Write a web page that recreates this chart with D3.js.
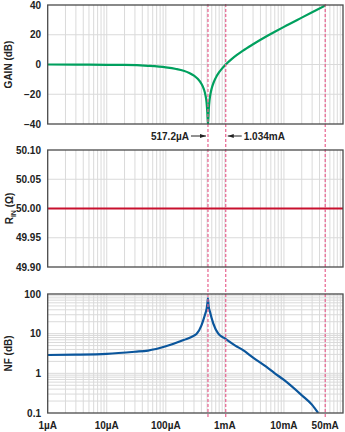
<!DOCTYPE html>
<html><head><meta charset="utf-8">
<script src="https://cdn.jsdelivr.net/npm/d3@7"></script>
<style>
html,body{margin:0;padding:0;background:#fff;}
svg text{font-family:"Liberation Sans",Arial,Helvetica,sans-serif;font-weight:bold;fill:#222;}
</style></head><body>
<svg id="chart" width="345" height="432"></svg>
<script>
// ---------- data ----------
const xTickValues = [1e-6, 1e-5, 1e-4, 1e-3, 1e-2, 5e-2];
const xTickLabels = ["1\u00b5A", "10\u00b5A", "100\u00b5A", "1mA", "10mA", "50mA"];

const gainTicks = [40, 20, 0, -20, -40];
const gainTickLabels = ["40", "20", "0", "\u221220", "\u221240"];
const gainCurrent = [1e-6, 3e-6, 1e-5, 2e-5, 5e-5, 1e-4, 1.5e-4, 2e-4, 2.5e-4, 3e-4, 3.5e-4, 4e-4, 4.4e-4, 4.7e-4, 4.9e-4, 5.05e-4, 5.172e-4, 5.25e-4, 5.35e-4, 5.5e-4, 5.8e-4, 6.2e-4, 7e-4, 8e-4, 9e-4, 1.034e-3, 1.3e-3, 1.6e-3, 2e-3, 3e-3, 5e-3, 7e-3, 1e-2, 2e-2, 3e-2, 5e-2];
const gainDb = [0, -0.05, -0.2, -0.3, -0.9, -1.9, -3.0, -4.2, -5.7, -7.5, -9.8, -12.9, -16.5, -20.8, -25.6, -32.5, -40, -36.5, -29.3, -24, -18.3, -14, -9, -5.2, -2.6, 0, 3.6, 6.4, 9.15, 13.6, 18.8, 22, 25.3, 31.5, 35.1, 39.6];

const rinTicks = [50.10, 50.05, 50.00, 49.95, 49.90];
const rinTickLabels = ["50.10", "50.05", "50.00", "49.95", "49.90"];
const rinCurrent = [1e-6, 1e-1];
const rinOhm = [50.0, 50.0];

const nfTicks = [100, 10, 1, 0.1];
const nfTickLabels = ["100", "10", "1", "0.1"];
const nfCurrent = [1e-6, 3e-6, 1e-5, 3e-5, 5e-5, 1e-4, 2e-4, 3e-4, 3.33e-4, 4e-4, 4.31e-4, 4.6e-4, 4.92e-4, 5.05e-4, 5.172e-4, 5.3e-4, 5.6e-4, 6.37e-4, 7.74e-4, 1e-3, 1.5e-3, 2e-3, 3e-3, 5e-3, 7e-3, 1e-2, 2e-2, 3e-2, 3.8e-2];
const nfDb = [2.9, 2.95, 3.1, 3.5, 3.75, 4.8, 6.9, 8.9, 10, 16, 22, 30, 43, 56, 78, 50, 35, 18, 10, 7.6, 5.0, 3.9, 2.5, 1.47, 1.0, 0.68, 0.28, 0.16, 0.1];

const markerCurrents = [517.2e-6, 1.034e-3, 50e-3];
const markerLabels = ["517.2\u00b5A", "1.034mA"];

// ---------- layout ----------
const svg = d3.select("#chart");
const X0 = 47.7, X1 = 343;
const x = d3.scaleLog().domain([1e-6, 1e-1]).range([X0, X1]);

const yGain = d3.scaleLinear().domain([-40, 40]).range([124, 5]);
const yRin = d3.scaleLinear().domain([49.90, 50.10]).range([267, 150]);
const yNf = d3.scaleLog().domain([0.1, 100]).range([413, 294]);

const gridColor = "#dadada";
const borderColor = "#4a4a4a";

// all minor/major x grid values
const xGrid = [];
for (let e = -6; e < -1; e++) for (let m = 1; m <= 9; m++) xGrid.push(m * Math.pow(10, e));

function panel(id, y, yTicks, yLabels, hGrid) {
  const [yb, yt] = y.range();
  const g = svg.append("g");
  g.append("clipPath").attr("id", "clip" + id).append("rect")
    .attr("x", X0).attr("y", yt).attr("width", X1 - X0).attr("height", yb - yt);
  g.selectAll("line.vg").data(xGrid.slice(1)).join("line")
    .attr("x1", d => x(d)).attr("x2", d => x(d)).attr("y1", yt).attr("y2", yb)
    .attr("stroke", gridColor).attr("stroke-width", 1);
  g.selectAll("line.hg").data(hGrid).join("line")
    .attr("x1", X0).attr("x2", X1).attr("y1", d => y(d)).attr("y2", d => y(d))
    .attr("stroke", gridColor).attr("stroke-width", 1);
  g.selectAll("text.yt").data(yTicks).join("text")
    .attr("x", 41).attr("y", d => y(d)).attr("dy", "0.35em")
    .attr("text-anchor", "end").attr("font-size", 10)
    .text((d, i) => yLabels[i]);
  return g;
}

// gain panel
const gGain = panel("gain", yGain, gainTicks, gainTickLabels, [20, 0, -20]);
// rin panel
const gRin = panel("rin", yRin, rinTicks, rinTickLabels, [50.05, 50.00, 49.95]);
// nf panel
const nfGrid = [];
for (let e = -1; e < 2; e++) for (let m = 1; m <= 9; m++) nfGrid.push(m * Math.pow(10, e));
const gNf = panel("nf", yNf, nfTicks, nfTickLabels, nfGrid.slice(1));

// marker dashed lines (behind curves, above grid)
svg.selectAll("line.mk").data(markerCurrents).join("line")
  .attr("x1", d => x(d)).attr("x2", d => x(d)).attr("y1", 4).attr("y2", 418)
  .attr("stroke", "#e8628e").attr("stroke-width", 1.2).attr("stroke-dasharray", "3,2");

// curves
const gainData = gainCurrent.map((c, i) => [c, gainDb[i]]);
gGain.append("path").datum(gainData)
  .attr("clip-path", "url(#clipgain)")
  .attr("fill", "none").attr("stroke", "#00a05e").attr("stroke-width", 2.2)
  .attr("d", d3.line().x(d => x(d[0])).y(d => yGain(d[1])).curve(d3.curveMonotoneX));

const rinData = rinCurrent.map((c, i) => [c, rinOhm[i]]);
gRin.append("path").datum(rinData)
  .attr("fill", "none").attr("stroke", "#c8102e").attr("stroke-width", 2.2)
  .attr("d", d3.line().x(d => x(d[0])).y(d => yRin(d[1])));

const nfData = nfCurrent.map((c, i) => [c, nfDb[i]]);
gNf.append("path").datum(nfData)
  .attr("clip-path", "url(#clipnf)")
  .attr("fill", "none").attr("stroke", "#0b569c").attr("stroke-width", 2.2)
  .attr("d", d3.line().x(d => x(d[0])).y(d => yNf(d[1])).curve(d3.curveMonotoneX));

// borders
[yGain, yRin, yNf].forEach(y => {
  const [yb, yt] = y.range();
  svg.append("rect").attr("x", X0).attr("y", yt).attr("width", X1 - X0).attr("height", yb - yt)
    .attr("fill", "none").attr("stroke", borderColor).attr("stroke-width", 1.3);
});

// x tick labels
svg.selectAll("text.xt").data(xTickValues).join("text")
  .attr("x", d => x(d)).attr("y", 429).attr("text-anchor", "middle").attr("font-size", 10)
  .text((d, i) => xTickLabels[i]);

// y axis titles
function yTitle(yc, xc, build) {
  const t = svg.append("text").attr("transform", `translate(${xc},${yc}) rotate(-90)`)
    .attr("text-anchor", "middle").attr("font-size", 10);
  build(t);
}
yTitle(64.5, 12, t => t.text("GAIN (dB)"));
yTitle(208.5, 13, t => {
  t.append("tspan").text("R");
  t.append("tspan").attr("font-size", 7).attr("dy", 2.5).text("IN");
  t.append("tspan").attr("dy", -2.5).text(" (\u03a9)");
});
yTitle(353.5, 12, t => t.text("NF (dB)"));

// annotations with arrows
const defs = svg.append("defs");
defs.append("marker").attr("id", "ah").attr("viewBox", "0 0 10 10").attr("refX", 10).attr("refY", 5)
  .attr("markerWidth", 6).attr("markerHeight", 6).attr("orient", "auto-start-reverse")
  .attr("markerUnits", "userSpaceOnUse")
  .append("path").attr("d", "M0,1.5 L10,5 L0,8.5 Z").attr("fill", "#222");

const ay = 136;
const xa = x(markerCurrents[0]), xb = x(markerCurrents[1]);
svg.append("line").attr("x1", xa - 17).attr("x2", xa - 2).attr("y1", ay).attr("y2", ay)
  .attr("stroke", "#222").attr("stroke-width", 1).attr("marker-end", "url(#ah)");
svg.append("text").attr("x", xa - 19).attr("y", ay).attr("dy", "0.35em")
  .attr("text-anchor", "end").attr("font-size", 10).text(markerLabels[0]);
svg.append("line").attr("x1", xb + 16).attr("x2", xb + 2).attr("y1", ay).attr("y2", ay)
  .attr("stroke", "#222").attr("stroke-width", 1).attr("marker-end", "url(#ah)");
svg.append("text").attr("x", xb + 18).attr("y", ay).attr("dy", "0.35em")
  .attr("text-anchor", "start").attr("font-size", 10).text(markerLabels[1]);
</script>
</body></html>
